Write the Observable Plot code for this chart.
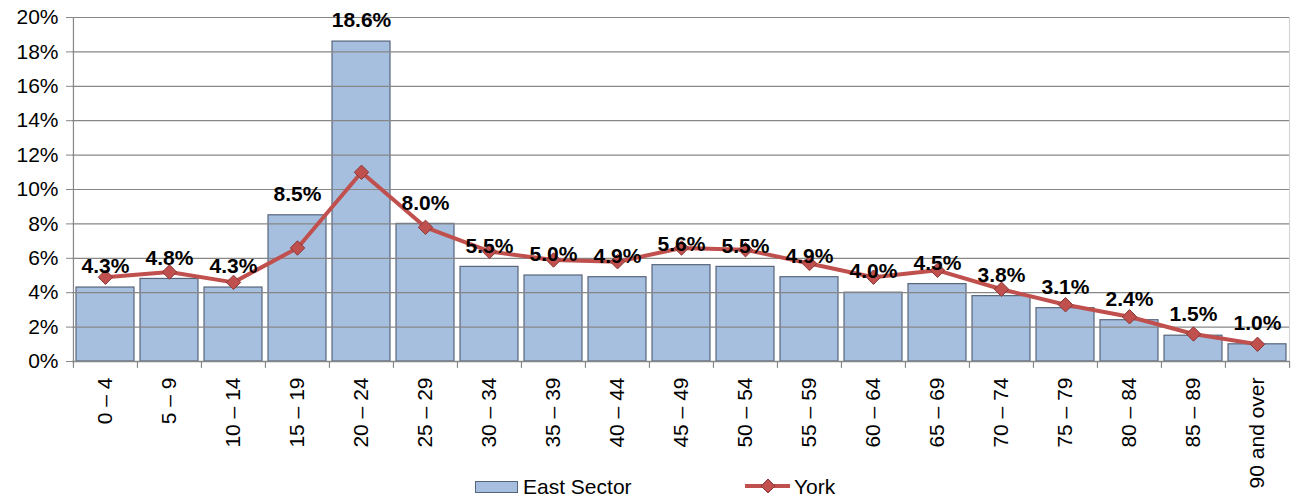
<!DOCTYPE html>
<html>
<head>
<meta charset="utf-8">
<script src="https://cdn.jsdelivr.net/npm/d3@7"></script>
<script src="https://cdn.jsdelivr.net/npm/@observablehq/plot@0.6"></script>
<style>
  html, body { margin: 0; padding: 0; background: #fff; }
  #wrap { position: relative; width: 1301px; height: 499px; font-family: "Liberation Sans", Arial, sans-serif; }
  #legend { position: absolute; left: 0; top: 474px; width: 1301px; height: 25px; font-size: 21px; color: #000; }
  .lg { position: absolute; top: 0; line-height: 25px; }
</style>
</head>
<body>
<div id="wrap">
  <div id="chart"></div>
  <div id="legend">
    <div class="lg" style="left:475px; top:7px; width:41px; height:10px; background:#A7BFDE; border:1px solid #56657a;"></div>
    <div class="lg" style="left:523px;">East Sector</div>
    <svg class="lg" style="left:743px; top:2px;" width="50" height="20">
      <line x1="2" y1="10" x2="47" y2="10" stroke="#C0504D" stroke-width="4"/>
      <path d="M25,3 L32,10 L25,17 L18,10 Z" fill="#C0504D" stroke="#8C3836" stroke-width="1"/>
    </svg>
    <div class="lg" style="left:794px;">York</div>
  </div>
</div>
<script>
const categories = ["0 – 4","5 – 9","10 – 14","15 – 19","20 – 24","25 – 29","30 – 34","35 – 39","40 – 44","45 – 49","50 – 54","55 – 59","60 – 64","65 – 69","70 – 74","75 – 79","80 – 84","85 – 89","90 and over"];
const eastSector = [4.3,4.8,4.3,8.5,18.6,8.0,5.5,5.0,4.9,5.6,5.5,4.9,4.0,4.5,3.8,3.1,2.4,1.5,1.0];
const york = [4.9,5.2,4.6,6.6,11.0,7.8,6.4,5.9,5.8,6.6,6.5,5.7,4.9,5.3,4.2,3.3,2.6,1.6,1.0];
const yTicks = [0,2,4,6,8,10,12,14,16,18,20];

const data = categories.map((c, i) => ({cat: c, east: eastSector[i], york: york[i]}));
const first = categories[0], last = categories[categories.length - 1];
const step = (1301 - 72 - 11) / categories.length;

const chart = Plot.plot({
  width: 1301,
  height: 499,
  marginLeft: 72,
  marginRight: 11,
  marginTop: 17,
  marginBottom: 138,
  style: {fontFamily: '"Liberation Sans", Arial, sans-serif', background: "transparent"},
  x: {domain: categories, paddingInner: 0.09, paddingOuter: 0.045, label: null},
  y: {domain: [0, 20], label: null},
  marks: [
    Plot.barY(data, {x: "cat", y: "east", fill: "#A7BFDE", stroke: "#56657a", strokeWidth: 1.2}),
    Plot.gridY(yTicks, {stroke: "#878787", strokeOpacity: 1, strokeWidth: 1.2}),
    Plot.ruleX([first], {x: d => d, y1: 0, y2: 20, dx: -step / 2, stroke: "#878787", strokeWidth: 1.2}),
    Plot.ruleX([last], {x: d => d, y1: 0, y2: 20, dx: step / 2, stroke: "#d0d0d0", strokeWidth: 1}),
    Plot.ruleX(categories, {x: d => d, y1: 0, y2: -0.4, dx: -step / 2, stroke: "#878787", strokeWidth: 1.2}),
    Plot.ruleX([last], {x: d => d, y1: 0, y2: -0.4, dx: step / 2, stroke: "#878787", strokeWidth: 1.2}),
    Plot.ruleY([0], {stroke: "#878787", strokeWidth: 1.5}),
    Plot.axisY({ticks: yTicks, tickFormat: d => d + "%", tickSize: 6, tickPadding: 8, fontSize: 21, stroke: "#878787", color: "#000", label: null}),
    Plot.axisX({tickSize: 0, tickRotate: -90, tickPadding: 16, fontSize: 21, label: null}),
    Plot.lineY(data, {x: "cat", y: "york", stroke: "#C0504D", strokeWidth: 4}),
    Plot.dot(data, {x: "cat", y: "york", symbol: "diamond2", r: 6.5, fill: "#C0504D", stroke: "#8C3836", strokeWidth: 1}),
    Plot.text(data, {x: "cat", y: "east", text: d => d.east.toFixed(1) + "%", dy: -21, fontSize: 21, fontWeight: "bold", fill: "#000"})
  ]
});
document.getElementById("chart").appendChild(chart);
</script>
</body>
</html>
